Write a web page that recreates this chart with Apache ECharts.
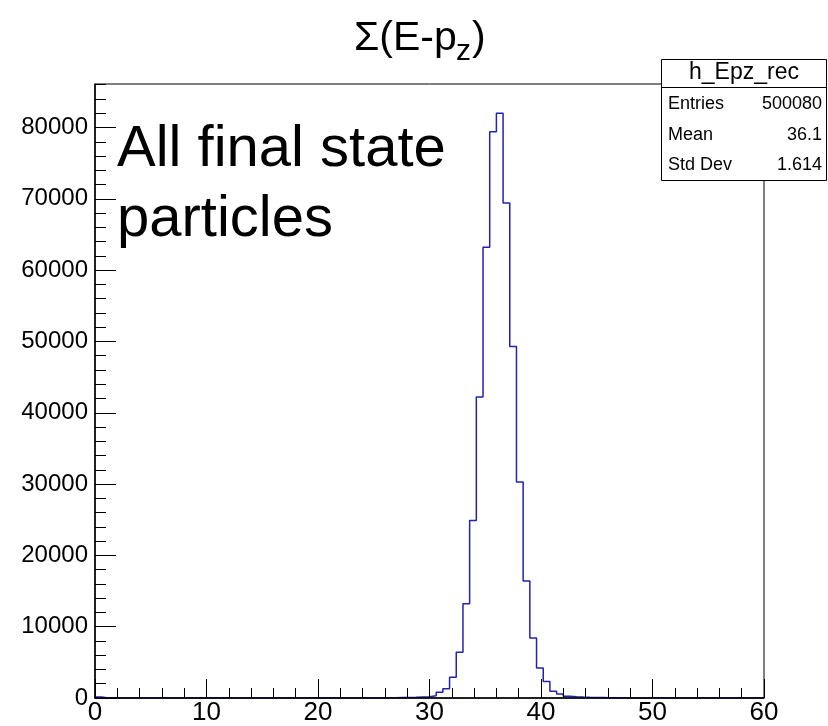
<!DOCTYPE html>
<html>
<head>
<meta charset="utf-8">
<script src="https://cdn.jsdelivr.net/npm/echarts@6/dist/echarts.min.js"></script>
<style>
html,body{margin:0;padding:0;background:#fff;}
#chart{width:828px;height:726px;}
</style>
</head>
<body>
<div id="chart"></div>
<script>
// Histogram h_Epz_rec: 100 bins from 0 to 60 (bin width 0.6)
const xMin = 0;
const xMax = 60;
const binWidth = 0.6;
const binCounts = [
  150, 0, 0, 0, 0, 0, 0, 0, 0, 0,
  0, 0, 0, 0, 0, 0, 0, 0, 0, 0,
  0, 0, 0, 0, 0, 0, 0, 0, 0, 0,
  0, 0, 0, 0, 0, 0, 0, 0, 0, 0,
  0, 0, 0, 0, 40, 60, 80, 100, 130, 160,
  330, 800, 1300, 2900, 6400, 13200, 24900, 42200, 63200, 79400,
  82000, 69400, 49300, 30300, 16400, 8400, 4200, 2300, 950, 550,
  250, 180, 130, 100, 80, 60, 40, 30, 0, 0,
  0, 0, 0, 0, 0, 0, 0, 0, 0, 0,
  0, 0, 0, 0, 0, 0, 0, 0, 0, 0
];
const yMax = 86100;
const xTickInterval = 10;
const yTickInterval = 10000;
const yMinorInterval = 2000;

const histTitle = 'h_Epz_rec';
const statLabels = ['Entries', 'Mean', 'Std Dev'];
const statValues = ['500080', '36.1', '1.614'];
const noteLines = ['All final state', 'particles'];

const FONT = '"Liberation Sans", Arial, Helvetica, sans-serif';

const lineData = binCounts.map((c, i) => [xMin + i * binWidth, c]);
lineData.push([xMax, 0]);

const chart = echarts.init(document.getElementById('chart'), null, {renderer: 'canvas'});

const statRowsY = [104, 135, 165];
const statGraphics = [];
statLabels.forEach((lab, i) => {
  statGraphics.push({type: 'text', z: 101, style: {text: lab, x: 668, y: statRowsY[i], fill: '#000', font: '18px ' + FONT, align: 'left', verticalAlign: 'middle'}});
  statGraphics.push({type: 'text', z: 101, style: {text: statValues[i], x: 822, y: statRowsY[i], fill: '#000', font: '18px ' + FONT, align: 'right', verticalAlign: 'middle'}});
});

const option = {
  animation: false,
  backgroundColor: '#fff',
  grid: {left: 95, right: 64, top: 84, bottom: 28, show: true, borderColor: '#000', borderWidth: 1, backgroundColor: 'transparent'},
  xAxis: {
    type: 'value', min: xMin, max: xMax, interval: xTickInterval, z: 5,
    axisLine: {show: true, onZero: false, lineStyle: {color: '#000', width: 1.5}},
    axisTick: {show: true, inside: true, length: 19, lineStyle: {color: '#000', width: 1}},
    minorTick: {show: true, splitNumber: 5, length: 10, lineStyle: {color: '#000', width: 1}},
    axisLabel: {color: '#000', fontSize: 26, fontFamily: FONT, margin: 2},
    splitLine: {show: false}, minorSplitLine: {show: false}
  },
  yAxis: [{
    type: 'value', min: 0, max: yMax, interval: yTickInterval, position: 'left', z: 5,
    axisLine: {show: true, lineStyle: {color: '#000', width: 1.5}},
    axisTick: {show: true, inside: true, length: 21, lineStyle: {color: '#000', width: 1}},
    axisLabel: {color: '#000', fontSize: 24, fontFamily: FONT, margin: 7, showMaxLabel: false,
      formatter: function (v) { return String(v); }},
    splitLine: {show: false}
  }, {
    type: 'value', min: 0, max: yMax, interval: yMinorInterval, position: 'left', offset: 0, z: 5,
    axisLine: {show: false},
    axisTick: {show: true, inside: true, length: 11, lineStyle: {color: '#000', width: 1}},
    axisLabel: {show: false},
    splitLine: {show: false}
  }],
  series: [{
    type: 'line', step: 'end', yAxisIndex: 0, data: lineData,
    showSymbol: false, symbol: 'none',
    lineStyle: {color: '#2222b0', width: 1.5},
    z: 2
  }],
  graphic: [
    {type: 'text', z: 100, style: {text: 'Σ(E-p', x: 354, y: 39, fill: '#000', font: '41px ' + FONT, align: 'left', verticalAlign: 'middle'}},
    {type: 'text', z: 100, style: {text: 'z', x: 456, y: 52, fill: '#000', font: '30px ' + FONT, align: 'left', verticalAlign: 'middle'}},
    {type: 'text', z: 100, style: {text: ')', x: 472, y: 39, fill: '#000', font: '41px ' + FONT, align: 'left', verticalAlign: 'middle'}},
    {type: 'text', z: 100, style: {text: noteLines[0], x: 117, y: 150, fill: '#000', font: '58px ' + FONT, align: 'left', verticalAlign: 'middle'}},
    {type: 'text', z: 100, style: {text: noteLines[1], x: 117, y: 220, fill: '#000', font: '58px ' + FONT, align: 'left', verticalAlign: 'middle'}},
    {type: 'rect', z: 100, shape: {x: 661.5, y: 59.5, width: 165, height: 121}, style: {fill: '#fff', stroke: '#000', lineWidth: 1}},
    {type: 'line', z: 101, shape: {x1: 661.5, y1: 87.5, x2: 826.5, y2: 87.5}, style: {stroke: '#000', lineWidth: 1}},
    {type: 'text', z: 101, style: {text: histTitle, x: 744, y: 73, fill: '#000', font: '23px ' + FONT, align: 'center', verticalAlign: 'middle'}}
  ].concat(statGraphics)
};
chart.setOption(option);
</script>
</body>
</html>
